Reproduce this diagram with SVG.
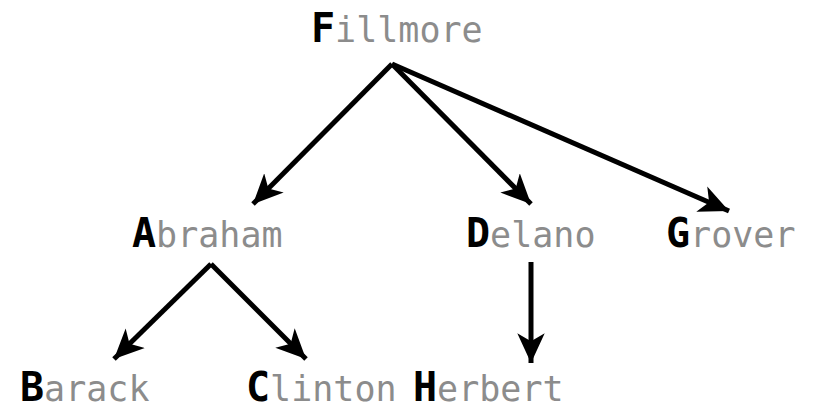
<svg xmlns="http://www.w3.org/2000/svg" width="814" height="405" viewBox="0 0 814 405">
<defs>
<style>
.lbl{font-family:"DejaVu Sans Mono","Liberation Mono",monospace;font-size:35px;fill:#8c8c8c}
.ini{font-weight:bold;font-size:40px;fill:#000}
.edge{stroke:#000;stroke-width:5;fill:none}
</style>
<marker id="ah" markerUnits="userSpaceOnUse" markerWidth="32" markerHeight="32" viewBox="-26 -13 28 26" refX="0" refY="0" orient="auto">
<path d="M0,0 L-26,-12 L-19,0 L-26,12 Z" fill="#000"/>
</marker>
</defs>
<rect width="814" height="405" fill="#fff"/>
<g id="edges">
<line class="edge" x1="392" y1="64" x2="253" y2="204" marker-end="url(#ah)"/>
<line class="edge" x1="392" y1="64" x2="531" y2="204" marker-end="url(#ah)"/>
<line class="edge" x1="392" y1="64" x2="729" y2="211" marker-end="url(#ah)"/>
<line class="edge" x1="211" y1="264" x2="114" y2="359" marker-end="url(#ah)"/>
<line class="edge" x1="211" y1="264" x2="306" y2="359" marker-end="url(#ah)"/>
<line class="edge" x1="531" y1="262" x2="531" y2="363" marker-end="url(#ah)"/>
</g>
<g id="F"><text class="lbl" x="311" y="42"><tspan class="ini">F</tspan>illmore</text></g>
<g id="A"><text class="lbl" x="132" y="247"><tspan class="ini">A</tspan>braham</text></g>
<g id="D"><text class="lbl" x="466" y="247"><tspan class="ini">D</tspan>elano</text></g>
<g id="G"><text class="lbl" x="666" y="247"><tspan class="ini">G</tspan>rover</text></g>
<g id="B"><text class="lbl" x="20" y="401"><tspan class="ini">B</tspan>arack</text></g>
<g id="C"><text class="lbl" x="246" y="401"><tspan class="ini">C</tspan>linton</text></g>
<g id="H"><text class="lbl" x="413" y="401"><tspan class="ini">H</tspan>erbert</text></g>
</svg>
